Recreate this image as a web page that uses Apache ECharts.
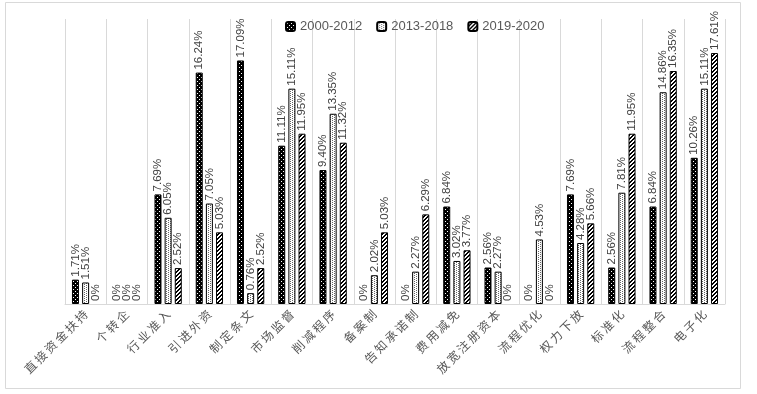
<!DOCTYPE html>
<html>
<head>
<meta charset="utf-8">
<script src="https://cdn.jsdelivr.net/npm/echarts@6/dist/echarts.min.js"></script>
<style>html,body{margin:0;padding:0;background:#fff;}#main{width:757px;height:394px;}</style>
</head>
<body>
<div id="main"></div>
<script>
var categories = ['直接资金扶持','个转企','行业准入','引进外资','制定条文','市场监督','削减程序','备案制','告知承诺制','费用减免','放宽注册资本','流程优化','权力下放','标准化','流程整合','电子化'];
var seriesNames = ['2000-2012','2013-2018','2019-2020'];
var s2000 = [1.71, 0, 7.69, 16.24, 17.09, 11.11, 9.40, 0, 0, 6.84, 2.56, 0, 7.69, 2.56, 6.84, 10.26];
var s2013 = [1.51, 0, 6.05, 7.05, 0.76, 15.11, 13.35, 2.02, 2.27, 3.02, 2.27, 4.53, 4.28, 7.81, 14.86, 15.11];
var s2019 = [0, 0, 2.52, 5.03, 2.52, 11.95, 11.32, 5.03, 6.29, 3.77, 0, 0, 5.66, 11.95, 16.35, 17.61];

function makePattern(kind){
  var c = document.createElement('canvas');
  c.width = 4; c.height = 4;
  var g = c.getContext('2d');
  if (kind === 0){
    g.fillStyle = '#000'; g.fillRect(0,0,4,4);
    g.fillStyle = '#fff'; g.fillRect(1,1,1,1); g.fillRect(3,3,1,1);
  } else if (kind === 1){
    g.fillStyle = '#fff'; g.fillRect(0,0,4,4);
    g.fillStyle = '#666'; g.fillRect(0,0,1,1); g.fillRect(0,2,1,1); g.fillRect(2,1,1,1); g.fillRect(2,3,1,1);
  } else {
    g.fillStyle = '#fff'; g.fillRect(0,0,4,4);
    g.fillStyle = '#000';
    for (var i=0;i<4;i++){ g.fillRect((3-i+4)%4,i,1,1); g.fillRect((4-i+4)%4,i,1,1); }
  }
  return {image: c, repeat: 'repeat'};
}

var dataSets = [s2000, s2013, s2019];
var chart = echarts.init(document.getElementById('main'));
var series = dataSets.map(function(d, i){
  return {
    name: seriesNames[i], type: 'bar',
    data: d.map(function(v){ return v === 0 ? {value: v, itemStyle: {borderWidth: 0}} : v; }),
    barWidth: 7, barGap: '45%',
    itemStyle: {color: makePattern(i), borderColor: '#000', borderWidth: 1},
    label: {
      show: true, position: 'top', rotate: 90, align: 'left', verticalAlign: 'middle', distance: 3,
      fontSize: 11.5, color: '#404040', fontFamily: 'Liberation Sans, Noto Sans CJK SC',
      formatter: function(p){ return p.value === 0 ? '0%' : p.value.toFixed(2) + '%'; }
    }
  };
});
chart.setOption({
  animation: false,
  backgroundColor: '#fff',
  graphic: [{type: 'rect', shape: {x: 5.5, y: 2.5, width: 735, height: 386}, style: {fill: 'none', stroke: '#d9d9d9', lineWidth: 1}, silent: true}],
  legend: {
    data: seriesNames, left: 280, top: 15, itemWidth: 9, itemHeight: 9, itemGap: 14,
    textStyle: {fontSize: 13, color: '#595959', fontFamily: 'Liberation Sans, Noto Sans CJK SC'}
  },
  grid: {left: 65, right: 32, top: 19, bottom: 90, containLabel: false},
  xAxis: {
    type: 'category', data: categories, boundaryGap: true,
    axisLine: {show: true, lineStyle: {color: '#d9d9d9'}},
    axisTick: {show: false},
    splitLine: {show: true, interval: 0, lineStyle: {color: '#d9d9d9'}},
    axisLabel: {interval: 0, rotate: 45, fontSize: 12, color: '#595959', margin: 8, fontFamily: 'Noto Sans CJK SC',
      formatter: function(v){ return v.split('').join('\u2009'); }}
  },
  yAxis: {
    type: 'value', min: 0, max: 20, interval: 5,
    axisLabel: {show: false}, axisLine: {show: false}, axisTick: {show: false}, splitLine: {show: false}
  },
  series: series
});
</script>
</body>
</html>
